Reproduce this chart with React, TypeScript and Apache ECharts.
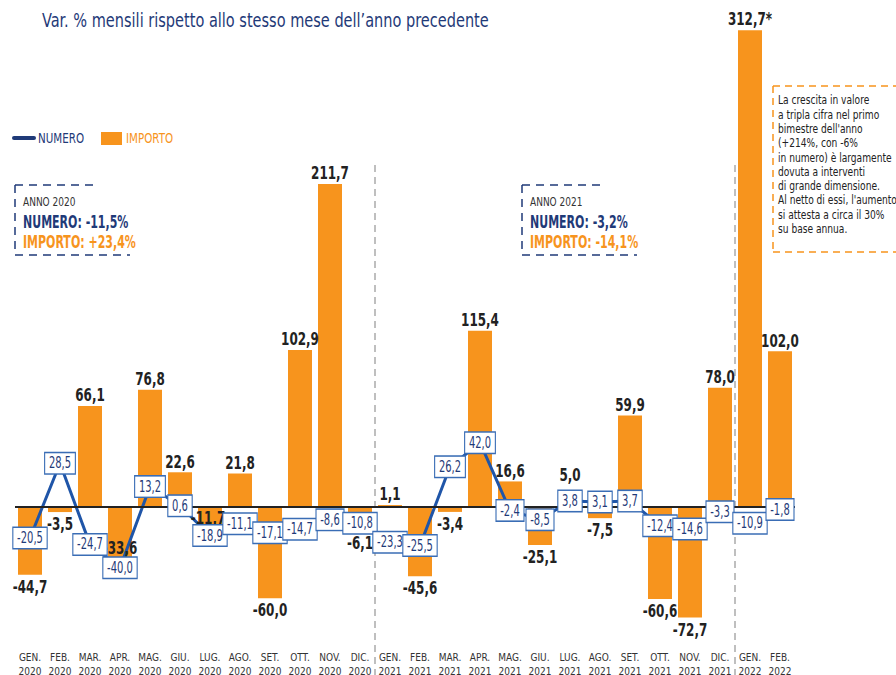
import React, { useEffect, useRef } from 'react';
import * as echarts from 'echarts';

const FONT = "'Liberation Sans Narrow', 'DejaVu Sans Condensed', 'Roboto Condensed', 'Arial Narrow', sans-serif";

const categories = [
  'GEN.\n2020', 'FEB.\n2020', 'MAR.\n2020', 'APR.\n2020', 'MAG.\n2020', 'GIU.\n2020',
  'LUG.\n2020', 'AGO.\n2020', 'SET.\n2020', 'OTT.\n2020', 'NOV.\n2020', 'DIC.\n2020',
  'GEN.\n2021', 'FEB.\n2021', 'MAR.\n2021', 'APR.\n2021', 'MAG.\n2021', 'GIU.\n2021',
  'LUG.\n2021', 'AGO.\n2021', 'SET.\n2021', 'OTT.\n2021', 'NOV.\n2021', 'DIC.\n2021',
  'GEN.\n2022', 'FEB.\n2022',
];

const importo = [
  -44.7, -3.5, 66.1, -33.6, 76.8, 22.6, -11.7, 21.8, -60.0, 102.9, 211.7, -6.1,
  1.1, -45.6, -3.4, 115.4, 16.6, -25.1, 5.0, -7.5, 59.9, -60.6, -72.7, 78.0,
  312.7, 102.0,
];

const numero = [
  -20.5, 28.5, -24.7, -40.0, 13.2, 0.6, -18.9, -11.1, -17.1, -14.7, -8.6, -10.8,
  -23.3, -25.5, 26.2, 42.0, -2.4, -8.5, 3.8, 3.1, 3.7, -12.4, -14.6, -3.3,
  -10.9, -1.8,
];

const starred = [24];

const title = 'Var. % mensili rispetto allo stesso mese dell\u2019anno precedente';
const legendNames = ['NUMERO', 'IMPORTO'];

const anno2020 = ['ANNO 2020', 'NUMERO: -11,5%', 'IMPORTO: +23,4%'];
const anno2021 = ['ANNO 2021', 'NUMERO: -3,2%', 'IMPORTO: -14,1%'];

const noteLines = [
  'La crescita in valore',
  'a tripla cifra nel primo',
  'bimestre dell\'anno',
  '(+214%, con -6%',
  'in numero) è largamente',
  'dovuta a interventi',
  'di grande dimensione.',
  'Al netto di essi, l\'aumento',
  'si attesta a circa il 30%',
  'su base annua.',
];

const NAVY = '#1f3a78';
const BLUE = '#1f55a8';
const ORANGE = '#f7941d';

const fmt = (v: number) => v.toFixed(1).replace('.', ',');

function yearBox(x: number, lines: string[]) {
  const dash = [8, 6];
  return [
    { type: 'line', shape: { x1: x, y1: 185, x2: x + 80, y2: 185 }, style: { stroke: NAVY, lineWidth: 1.5, lineDash: dash } },
    { type: 'line', shape: { x1: x, y1: 185, x2: x, y2: 255 }, style: { stroke: NAVY, lineWidth: 1.5, lineDash: dash } },
    { type: 'line', shape: { x1: x, y1: 255, x2: x + 115, y2: 255 }, style: { stroke: NAVY, lineWidth: 1.5, lineDash: dash } },
    { type: 'text', x: x + 8, y: 202, scaleX: 0.77, style: { text: lines[0], fill: '#333', fontSize: 13, fontFamily: FONT, verticalAlign: 'middle' } },
    { type: 'text', x: x + 8, y: 222, scaleX: 0.72, style: { text: lines[1], fill: NAVY, fontSize: 17, fontWeight: 'bold', fontFamily: FONT, verticalAlign: 'middle' } },
    { type: 'text', x: x + 8, y: 242, scaleX: 0.72, style: { text: lines[2], fill: ORANGE, fontSize: 17, fontWeight: 'bold', fontFamily: FONT, verticalAlign: 'middle' } },
  ];
}

export default function App() {
  const ref = useRef<HTMLDivElement>(null);

  useEffect(() => {
    if (!ref.current) return;
    const chart = echarts.init(ref.current, null, { renderer: 'svg' });

    // nudges of some bar labels (pixels), to avoid collisions as in the original
    const labelDy: Record<number, number> = { 3: -22, 6: -19, 11: 15, 18: -13 };
    const labelDx: Record<number, number> = { 6: -2 };

    const noteX = 773;
    const graphic: any[] = [
      { type: 'line', z: 0, shape: { x1: 375, y1: 165, x2: 375, y2: 675 }, style: { stroke: '#aaa', lineWidth: 1.5, lineDash: [7, 5] } },
      { type: 'line', z: 0, shape: { x1: 735, y1: 165, x2: 735, y2: 675 }, style: { stroke: '#aaa', lineWidth: 1.5, lineDash: [7, 5] } },
      { type: 'text', x: 42, y: 21, scaleX: 0.85, style: { text: title, fill: NAVY, fontSize: 19, fontFamily: FONT, verticalAlign: 'middle' } },
      { type: 'line', shape: { x1: 14, y1: 138, x2: 34, y2: 138 }, style: { stroke: NAVY, lineWidth: 4, lineCap: 'round' } },
      { type: 'text', x: 38, y: 138, scaleX: 0.82, style: { text: legendNames[0], fill: NAVY, fontSize: 14, fontFamily: FONT, verticalAlign: 'middle' } },
      { type: 'rect', shape: { x: 101, y: 132, width: 21, height: 13 }, style: { fill: ORANGE } },
      { type: 'text', x: 126, y: 138, scaleX: 0.82, style: { text: legendNames[1], fill: ORANGE, fontSize: 14, fontFamily: FONT, verticalAlign: 'middle' } },
      ...yearBox(15, anno2020),
      ...yearBox(522, anno2021),
      { type: 'line', shape: { x1: noteX, y1: 86, x2: 896, y2: 86 }, style: { stroke: ORANGE, lineWidth: 1.5, lineDash: [7, 5] } },
      { type: 'line', shape: { x1: noteX, y1: 86, x2: noteX, y2: 252 }, style: { stroke: ORANGE, lineWidth: 1.5, lineDash: [7, 5] } },
      { type: 'line', shape: { x1: noteX, y1: 252, x2: 896, y2: 252 }, style: { stroke: ORANGE, lineWidth: 1.5, lineDash: [7, 5] } },
      ...noteLines.map((t, i) => ({
        type: 'text', x: noteX + 5, y: 100 + i * 14.3, scaleX: 0.81,
        style: { text: t, fill: '#222', fontSize: 12.5, fontFamily: FONT, verticalAlign: 'middle' },
      })),
    ];

    chart.setOption({
      animation: false,
      grid: { left: 15, right: 101, top: 19, bottom: 25, outerBoundsMode: 'none', containLabel: false },
      xAxis: {
        type: 'category', data: categories,
        axisLine: { show: false }, axisTick: { show: false },
        axisLabel: { interval: 0, fontSize: 10, lineHeight: 14, color: '#333', fontFamily: FONT, margin: 0 },
      },
      yAxis: { type: 'value', min: -94, max: 320, show: false, splitLine: { show: false } },
      graphic,
      series: [
        {
          name: 'IMPORTO', type: 'bar', data: importo, barWidth: 24, z: 2,
          itemStyle: { color: ORANGE },
          markLine: {
            silent: true, symbol: 'none', label: { show: false },
            lineStyle: { color: '#222', width: 2, type: 'solid' },
            data: [{ yAxis: 0 }],
          },
        },
        {
          name: 'NUMERO', type: 'line', data: numero, z: 3,
          symbol: 'none',
          lineStyle: { color: BLUE, width: 3 }, itemStyle: { color: BLUE },
        },
        {
          name: 'importoLabels', type: 'custom', z: 4, silent: true,
          data: importo.map((v, i) => [i, v]),
          encode: { x: 0, y: 1 },
          renderItem: (params: any, api: any) => {
            const i = api.value(0);
            const v = api.value(1);
            const p = api.coord([i, v]);
            const y = p[1] + (v >= 0 ? -11 : 12) + (labelDy[params.dataIndex] || 0);
            const x = p[0] + (labelDx[params.dataIndex] || 0);
            return {
              type: 'text', x, y, scaleX: 0.74,
              style: {
                text: fmt(v) + (starred.includes(params.dataIndex) ? '*' : ''),
                fill: '#222', fontSize: 18, fontWeight: 'bold', fontFamily: FONT,
                align: 'center', verticalAlign: 'middle',
              },
            };
          },
        },
        {
          name: 'numeroLabels', type: 'custom', z: 5, silent: true,
          data: numero.map((v, i) => [i, v]),
          encode: { x: 0, y: 1 },
          renderItem: (params: any, api: any) => {
            const i = api.value(0);
            const v = api.value(1);
            const p = api.coord([i, v]);
            return {
              type: 'text', x: p[0], y: p[1], scaleX: 0.74,
              style: {
                text: fmt(v), fill: NAVY, fontSize: 15, fontFamily: FONT,
                align: 'center', verticalAlign: 'middle',
                backgroundColor: '#fff', borderColor: '#3a6db5', borderWidth: 1.5,
                padding: [3, 5, 2, 5],
              },
            };
          },
        },
      ],
    });

    return () => chart.dispose();
  }, []);

  return <div ref={ref} style={{ width: 896, height: 675, position: 'absolute', left: 0, top: 0 }} />;
}
